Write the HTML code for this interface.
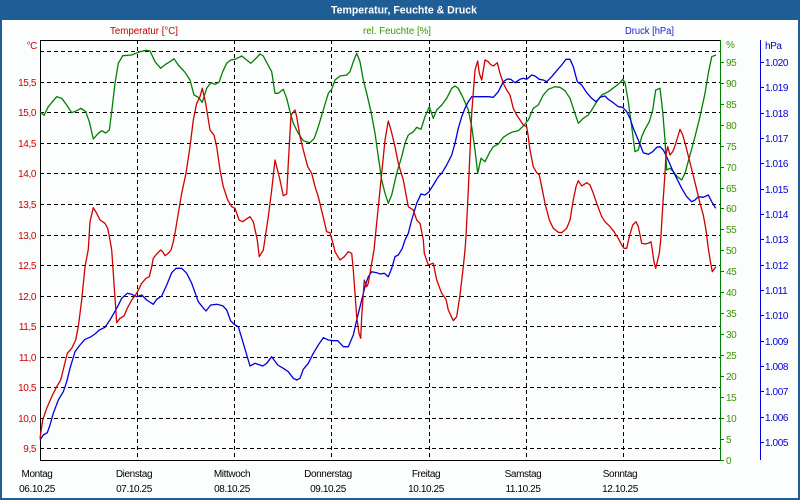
<!DOCTYPE html>
<html><head><meta charset="utf-8"><style>
html,body{margin:0;padding:0;background:#fff;}
svg{display:block;}
text{font-family:"Liberation Sans",Arial,sans-serif;}
</style></head><body>
<svg width="800" height="500" viewBox="0 0 800 500" xmlns="http://www.w3.org/2000/svg">
<rect x="0" y="0" width="800" height="500" fill="#1f5d96"/>
<rect x="2" y="20" width="796" height="478" fill="#fcfefe"/>
<text x="404" y="13.5" fill="#ffffff" font-size="11" font-weight="bold" text-anchor="middle" textLength="146" lengthAdjust="spacingAndGlyphs">Temperatur, Feuchte &amp; Druck</text>

<text x="110" y="34" fill="#c00000" font-size="10" textLength="68" lengthAdjust="spacingAndGlyphs">Temperatur [°C]</text>
<text x="363" y="34" fill="#3f9400" font-size="10" textLength="68" lengthAdjust="spacingAndGlyphs">rel. Feuchte [%]</text>
<text x="625" y="34" fill="#1a1acc" font-size="10" textLength="49" lengthAdjust="spacingAndGlyphs">Druck [hPa]</text>

<!-- grid -->
<g stroke="#000" stroke-width="1" stroke-dasharray="4,3" shape-rendering="crispEdges" fill="none">
<path d="M40 51.5H720M40 82.5H720M40 112.5H720M40 143.5H720M40 173.5H720M40 204.5H720M40 235.5H720M40 265.5H720M40 296.5H720M40 326.5H720M40 357.5H720M40 387.5H720M40 418.5H720M40 448.5H720"/>
<path d="M137.5 40V460M234.5 40V460M331.5 40V460M429.5 40V460M526.5 40V460M623.5 40V460"/>
</g>
<!-- axes -->
<g shape-rendering="crispEdges" stroke-width="1" fill="none">
<path d="M40.5 40V460.5H720M40 40.5H720" stroke="#000"/>
<path d="M720.5 40V460.5" stroke="#008000"/>
<path d="M720 62.5h4M720 83.5h4M720 104.5h4M720 125.5h4M720 146.5h4M720 167.5h4M720 188.5h4M720 208.5h4M720 229.5h4M720 250.5h4M720 271.5h4M720 292.5h4M720 313.5h4M720 334.5h4M720 355.5h4M720 376.5h4M720 397.5h4M720 418.5h4M720 439.5h4M720 460.5h4" stroke="#008000"/>
<path d="M760.5 40V460" stroke="#0000dd"/>
<path d="M760 62.5h4M760 87.5h4M760 113.5h4M760 138.5h4M760 163.5h4M760 189.5h4M760 214.5h4M760 239.5h4M760 265.5h4M760 290.5h4M760 315.5h4M760 341.5h4M760 366.5h4M760 391.5h4M760 417.5h4M760 442.5h4" stroke="#0000dd"/>
</g>

<!-- left labels -->
<g fill="#cc0000" font-size="10" text-anchor="end" letter-spacing="-0.4">
<text x="37" y="49">°C</text>
<text x="36" y="86">15,5</text>
<text x="36" y="116">15,0</text>
<text x="36" y="147">14,5</text>
<text x="36" y="177">14,0</text>
<text x="36" y="208">13,5</text>
<text x="36" y="239">13,0</text>
<text x="36" y="269">12,5</text>
<text x="36" y="300">12,0</text>
<text x="36" y="330">11,5</text>
<text x="36" y="361">11,0</text>
<text x="36" y="391">10,5</text>
<text x="36" y="422">10,0</text>
<text x="36" y="452">9,5</text>
</g>
<!-- green labels -->
<g fill="#3f9400" font-size="10" letter-spacing="-0.4">
<text x="726" y="48">%</text>
<text x="726" y="66">95</text>
<text x="726" y="87">90</text>
<text x="726" y="108">85</text>
<text x="726" y="129">80</text>
<text x="726" y="150">75</text>
<text x="726" y="171">70</text>
<text x="726" y="192">65</text>
<text x="726" y="212">60</text>
<text x="726" y="233">55</text>
<text x="726" y="254">50</text>
<text x="726" y="275">45</text>
<text x="726" y="296">40</text>
<text x="726" y="317">35</text>
<text x="726" y="338">30</text>
<text x="726" y="359">25</text>
<text x="726" y="380">20</text>
<text x="726" y="401">15</text>
<text x="726" y="422">10</text>
<text x="726" y="443">5</text>
<text x="726" y="464">0</text>
</g>
<!-- blue labels -->
<g fill="#0000d0" font-size="10" letter-spacing="-0.4">
<text x="765" y="49">hPa</text>
<text x="765" y="66">1.020</text>
<text x="765" y="91">1.019</text>
<text x="765" y="117">1.018</text>
<text x="765" y="142">1.017</text>
<text x="765" y="167">1.016</text>
<text x="765" y="193">1.015</text>
<text x="765" y="218">1.014</text>
<text x="765" y="243">1.013</text>
<text x="765" y="269">1.012</text>
<text x="765" y="294">1.011</text>
<text x="765" y="319">1.010</text>
<text x="765" y="345">1.009</text>
<text x="765" y="370">1.008</text>
<text x="765" y="395">1.007</text>
<text x="765" y="421">1.006</text>
<text x="765" y="446">1.005</text>
</g>
<!-- day labels -->
<g fill="#000" font-size="10" text-anchor="middle" letter-spacing="-0.4">
<text x="37" y="477">Montag</text><text x="37" y="492">06.10.25</text>
<text x="134" y="477">Dienstag</text><text x="134" y="492">07.10.25</text>
<text x="232" y="477">Mittwoch</text><text x="232" y="492">08.10.25</text>
<text x="328" y="477">Donnerstag</text><text x="328" y="492">09.10.25</text>
<text x="426" y="477">Freitag</text><text x="426" y="492">10.10.25</text>
<text x="523" y="477">Samstag</text><text x="523" y="492">11.10.25</text>
<text x="620" y="477">Sonntag</text><text x="620" y="492">12.10.25</text>
</g>

<!-- series -->
<g fill="none" stroke-width="1.3" stroke-linejoin="round">
<polyline stroke="#008000" points="40,111.7 44,115.3 48.3,106.7 56.7,96.7 61.7,98.3 66.7,105 71.7,112.7 76.7,110.7 81,108.3 85.7,111.7 89.3,121.7 93.3,139 98.3,133.3 101.7,130.7 105.7,133 109.3,130 111.7,111.7 115,83.3 118.3,63.3 122.7,55.7 131.7,55 140,51.7 146,50.3 150,51 155,61.7 160.7,68.3 166,64 170,61.7 174,58.7 178.3,65 185,72.3 190,80 194,95 198.3,97.3 202.3,102.3 206.7,88.3 210.7,82.7 215,84.3 219,82.3 222.7,71.7 226.7,63.3 230.7,60 235,59.3 241.7,56 246.7,60 250.7,63.3 256,58.3 260,54 263.3,56 265,59.3 271.7,71.7 275,93.3 278.3,93.3 283.3,89.3 286.7,98.3 290,111.7 293.3,123.3 298.3,133.3 303.3,140.7 310,142.7 314.3,138.3 318.3,126.7 323.3,110 328.3,93.3 331.7,89.3 335,80 340,76 346.7,75 350,71.7 353.3,61.7 356.7,53.3 360,61.7 363.3,80 366.7,93.3 371,111.7 375,133.3 378.3,156.7 381.7,180 385,193.3 388.3,203.3 391.7,195 396.7,173.3 401.7,156.7 405,143.3 408.3,135 413.3,131.7 416.7,127.3 421,129.3 425,116.7 429.3,106.7 433.3,118.3 436.7,110 441.7,105 446.7,98.3 451.7,88.3 455,86 458.3,88.3 463.3,98.3 468.3,110 471.7,126.7 475,150 477.7,173.3 481,158.3 485,161.7 490,151.7 493.3,146.7 498.3,144 503.3,137.3 508.3,134 513.3,131.7 518.3,130.7 523.3,126 528.3,120 533.3,108.3 538.3,105 543.3,95 548.3,89.3 555,86.7 560,87.3 565,90.7 570,98.3 573.3,108.3 578.3,123.3 583.3,118.3 588.3,115 591.7,110 596.7,101.7 601.7,95 608.3,91.7 615,86.7 620,82.7 622.7,79.3 625,82.7 628.3,101.7 631.7,126.7 635,151.7 638.3,150 641.7,136.7 645,129.3 649.3,121.7 652.7,110 655.7,90 660,88.3 662.7,111.7 665,140 666.7,170 670,168.3 673.3,171.7 677.3,176.7 681.7,180 685,173.3 690,155 695,136.7 700,116.7 705,93.3 708.3,73.3 711.7,56.7 716,55"/>
<polyline stroke="#0000dd" points="40,440 43.3,435 47.3,432.7 50,425 53.3,413.3 58.3,400 63.3,391.7 66.7,381.7 70,368.3 75,351.7 80,345 85,339.3 90,337.3 95,334 99.3,330 105,327.3 110,320 116.7,308.3 121.7,298.3 127.3,293.3 131.7,294.3 136.7,296.7 141.7,295 146.7,300 153.3,304.3 156.7,299.3 161.7,296 166.7,285 171.7,272.7 176,268.3 181.7,268.3 186.7,273.3 191.7,283.3 198.3,301.7 202.7,307.3 206,311 210.7,305 216.7,304.3 222.7,305.7 226.7,310 230.7,321 235,325 238.3,326.7 243.3,343.3 250,366 255,363.3 262.7,366 266.7,363.3 271.7,356.7 277.7,365 283.3,368.3 288.3,371.7 293.3,378.3 296.7,380 300,378.3 303.3,369.3 308.3,363.3 313.3,353.3 318.3,345 323.3,337.7 328.3,340 333.3,340.7 337.7,340.7 343.3,346.7 348.3,346.7 353.3,335 356.7,320 361.7,300 365,286.7 368.3,276.7 371.7,271.7 376.7,272.7 380,274 384.3,273.3 388.3,276.7 391.7,268.3 395,256.7 398.3,255 402.3,248.3 405,240 408.3,233.3 411.7,220 416.7,203.3 421,194 425,195 429,191.7 433.3,185 438.3,176.7 441.7,173.3 446.7,165 451.7,155 455,143.3 458.3,128.3 461.7,116.7 465,108.3 468.3,101.7 471.7,96.7 478.3,96.7 488.3,96.7 493.3,97.3 498.3,91.7 503.3,81.7 507.3,79 510.7,79.3 515,82.7 520,79.3 523.3,78.3 526.7,79.3 531.7,75 535,76 539.3,79.3 543.3,80 546.7,81.7 551.7,76.7 556.7,70.7 561.7,65 566,59.3 570,59.3 573.3,66.7 577.3,81.7 581.7,85 586.7,92.7 591.7,98.3 596,101.7 600,97.3 605,96 608.3,99.3 613.3,102.7 618.3,106.7 622.7,107.3 626.7,111.7 630,118.3 633.3,128.3 638.3,140 643.3,152.7 648.3,154.3 652.7,151.7 656.7,147.3 660,146.7 663.3,150 666.7,156.7 671.7,168.3 676.7,178.3 681.7,188.3 686.7,196.7 691.7,201.7 695,200 698.3,196.7 703.3,197.3 708.3,195 711.7,201.7 715.7,208.3"/>
<polyline stroke="#d00000" points="40,438.3 42.7,420 46.7,408.3 51.7,396.7 56.7,386.7 60.7,380 64,366.7 67.3,353.3 71.7,348.3 75.7,340 78.3,326.7 81.7,300 85,266.7 88.3,249.3 90,221.7 93.3,207.7 96.7,213.3 100,220 105,223.3 107.7,228.3 110,240 111.7,250 114,283.3 116.7,322.7 120,318.3 124,316 127.3,308.3 131.7,300 136.7,293.3 141.7,283.3 146,278.3 149.3,276.7 151.7,266.7 153.3,258.3 156.7,254 160.7,250 162.7,251.7 165,255.7 168.3,253.3 171,250 173.3,241.7 175,233.3 178.3,213.3 181.7,193.3 186,173.3 190,146.7 193.3,120 196.7,103.3 200,96.7 202.3,88.3 205.7,103.3 210,130 214,135 216.7,146.7 220,170 223.3,186.7 227.7,200 231.7,206.7 235,208.3 239,220 242.7,221.7 246,219.3 250,216.7 253.3,221.7 257.3,240 259.3,256.7 263.3,250 265,239 268.3,216.7 271.7,190 275,160 276.7,166.7 280,180 283.3,195.7 286.7,194 288.3,163.3 291,115 295,110 296.7,116.7 300,136.7 303.3,150 307.7,166.7 311.7,173.3 315,186.7 318.3,196.7 322.3,213.3 326.7,231.7 330,232.7 334.3,248.3 335,251.7 340,260 344.3,256.7 348.3,251.7 351.7,253.3 353.3,270 355,293.3 356.7,316.7 359,333.3 360.7,338.3 361.7,316.7 364.3,280 366.7,286.7 368.3,283.3 370,273.3 371.7,263.3 374,250 375,240 378.3,206.7 381.7,173.3 385,140 388.3,121 391,130 395,146.7 398.3,163.3 403.3,180 408.3,206.7 413.3,210 416.7,220 420,223.3 423.3,240 424.3,253.3 428.3,265 433.3,263.3 436.7,280 441.7,293.3 446,299.3 448.3,310 453.3,320.7 456.7,316.7 460,295 463.3,266.7 465,250 466,236.7 468.3,190 471.7,113.3 475,70 477.7,61 479.3,73.3 481.7,80 485,60 488.3,61.7 490,64 493.3,66 497.3,62.7 500,73.3 503.3,83.3 506.7,90 510,95 513.3,108.3 516.7,115 520,120 523.3,125 526.7,126.7 528.3,136.7 530,150 533.3,166.7 536.7,172.7 539.3,175 541.7,186.7 545,203.3 549.3,220 553.3,228.3 558.3,232.3 561.7,232.7 566.7,228.3 570,220 573.3,200 576,186.7 578.3,180.7 581.7,186 586.7,182.7 590,185 593.3,193.3 596.7,203.3 601.7,216.7 605,221.7 610,226.7 614,231.7 618.3,238.3 621.7,245 624,248.3 626.7,248.3 629.3,236.7 632.7,225 636,221.7 638.3,226.7 641.7,243.3 645,244 648.3,243.3 651,241.7 652.3,250 654,261.7 655.7,268.3 657.3,261.7 659.3,253.3 660.7,240 662.7,206.7 665,173.3 666,155 667.7,146.7 670,155 672.7,151.7 675.3,145 678.3,135 680,129.3 682.7,135 686,146.7 689.3,160 692.7,173.3 696,186.7 700,203.3 703.3,215 706,230 708.3,248.3 710.7,263.3 712.3,271.7 714,269.3 716,266.7"/>
</g>
</svg>
</body></html>
